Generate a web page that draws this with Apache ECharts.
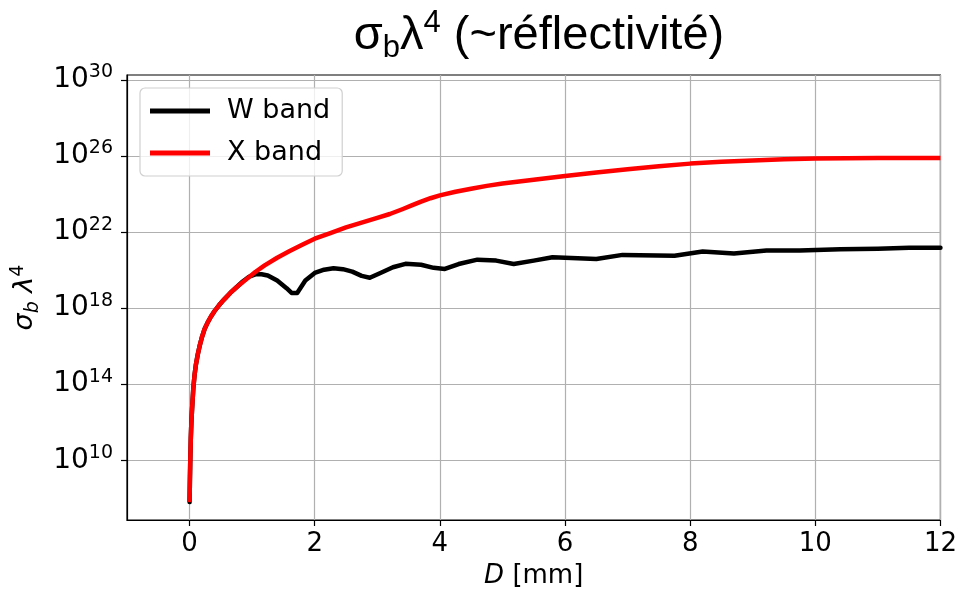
<!DOCTYPE html>
<html>
<head>
<meta charset="utf-8">
<script src="https://cdn.jsdelivr.net/npm/echarts@6/dist/echarts.min.js"></script>
<style>
  html, body { margin: 0; padding: 0; background: #fff; }
  #chart { width: 960px; height: 594px; }
</style>
</head>
<body>
<div id="chart"></div>
<script>
// D [mm] et log10(sigma_b * lambda^4)
const xDiam = [0, 0.005, 0.01, 0.02, 0.03, 0.04, 0.06, 0.08, 0.1, 0.13, 0.16, 0.2, 0.24, 0.29, 0.34, 0.4, 0.47, 0.55, 0.65, 0.75, 0.9, 1.05, 1.2, 1.4, 1.6, 1.8, 2.0, 2.25, 2.5, 2.75, 3.0, 3.2, 3.4, 3.55, 3.7, 3.85, 4.0, 4.25, 4.5, 4.75, 5.0, 5.5, 6.0, 6.5, 7.0, 7.5, 8.0, 8.5, 9.0, 9.5, 10.0, 11.0, 12.0];
const xBandLog = [7.8, 8.9, 9.8, 11.2, 12.1, 12.7, 13.8, 14.5, 15.0, 15.55, 16.0, 16.5, 16.9, 17.25, 17.55, 17.85, 18.15, 18.45, 18.8, 19.1, 19.5, 19.9, 20.25, 20.65, 21.0, 21.33, 21.65, 21.95, 22.25, 22.5, 22.75, 22.95, 23.2, 23.4, 23.6, 23.78, 23.93, 24.12, 24.28, 24.43, 24.55, 24.75, 24.95, 25.13, 25.3, 25.46, 25.6, 25.7, 25.77, 25.83, 25.87, 25.9, 25.9];

const wDiam = [0, 0.005, 0.01, 0.02, 0.03, 0.04, 0.06, 0.08, 0.1, 0.13, 0.16, 0.2, 0.24, 0.29, 0.34, 0.4, 0.47, 0.55, 0.65, 0.75, 0.85, 0.95, 1.05, 1.15, 1.25, 1.4, 1.55, 1.63, 1.72, 1.85, 2.0, 2.15, 2.3, 2.45, 2.6, 2.75, 2.88, 3.05, 3.25, 3.45, 3.7, 3.9, 4.08, 4.3, 4.6, 4.9, 5.18, 5.5, 5.8, 6.5, 6.92, 7.75, 8.2, 8.7, 9.22, 9.75, 10.4, 11.0, 11.5, 12.0];
const wBandLog = [7.8, 8.9, 9.8, 11.2, 12.1, 12.7, 13.8, 14.5, 15.0, 15.55, 16.0, 16.5, 16.9, 17.25, 17.55, 17.85, 18.15, 18.45, 18.8, 19.1, 19.4, 19.65, 19.78, 19.78, 19.72, 19.45, 19.05, 18.8, 18.8, 19.45, 19.85, 20.02, 20.1, 20.05, 19.92, 19.7, 19.6, 19.85, 20.15, 20.33, 20.28, 20.12, 20.06, 20.32, 20.55, 20.5, 20.32, 20.5, 20.68, 20.58, 20.8, 20.76, 20.98, 20.87, 21.03, 21.03, 21.1, 21.12, 21.17, 21.18];

const xTicks = [0, 2, 4, 6, 8, 10, 12];
const yTicks = [10, 14, 18, 22, 26, 30];

const FONT = 'DejaVu Sans';

const chart = echarts.init(document.getElementById('chart'));

const pairs = (xs, ys) => xs.map((x, i) => [x, ys[i]]);

chart.setOption({
  animation: false,
  backgroundColor: '#fff',
  title: {
    text: '{a|σ}{sub|b}{a|λ}{sup|4}{a| (~réflectivité)}',
    left: 534,
    top: 3,
    textAlign: 'center',
    textStyle: {
      fontWeight: 'normal',
      rich: {
        a: { fontFamily: 'Liberation Sans', fontWeight: 'normal', fontSize: 47, color: '#000', lineHeight: 56 },
        sub: { fontFamily: 'Liberation Sans', fontWeight: 'normal', fontSize: 31, color: '#000', verticalAlign: 'bottom', lineHeight: 43 },
        sup: { fontFamily: 'Liberation Sans', fontWeight: 'normal', fontSize: 31, color: '#000', verticalAlign: 'top', lineHeight: 34 }
      }
    }
  },
  grid: {
    left: 127, right: 18, top: 75, bottom: 72,
    show: true, borderColor: '#000', borderWidth: 1.2, backgroundColor: '#fff'
  },
  legend: {
    left: 140, top: 88,
    orient: 'vertical',
    icon: 'rect',
    itemWidth: 60, itemHeight: 5,
    itemGap: 12,
    padding: [8, 12, 8, 10],
    backgroundColor: 'rgba(255,255,255,0.8)',
    borderColor: '#d0d0d0', borderWidth: 1.2, borderRadius: 5,
    textStyle: { fontFamily: FONT, fontSize: 27, color: '#000', padding: [0, 0, 0, 12], lineHeight: 30 },
    data: ['W band', 'X band']
  },
  xAxis: {
    type: 'value',
    min: -1, max: 12,
    name: '{i|D}{n| [mm]}',
    nameLocation: 'middle',
    nameGap: 43,
    nameTextStyle: {
      rich: {
        i: { fontFamily: FONT, fontStyle: 'italic', fontSize: 26, color: '#000' },
        n: { fontFamily: FONT, fontSize: 26, color: '#000' }
      }
    },
    axisLine: { show: true, onZero: false, lineStyle: { color: '#000', width: 1.2 } },
    axisTick: { show: true, length: 6, customValues: xTicks, lineStyle: { color: '#000', width: 1.2 } },
    axisLabel: { customValues: xTicks, fontFamily: FONT, fontSize: 26, color: '#000', margin: 11 },
    splitLine: { show: true, lineStyle: { color: '#b0b0b0', width: 1.2 } }
  },
  yAxis: {
    type: 'value',
    min: 6.86, max: 30.26,
    name: '{s|σ}{b|b}{s| λ}{p|4}',
    nameLocation: 'middle',
    nameRotate: 90,
    nameGap: 77,
    nameTextStyle: {
      rich: {
        s: { fontFamily: FONT, fontStyle: 'italic', fontSize: 27, color: '#000', lineHeight: 34 },
        b: { fontFamily: FONT, fontStyle: 'italic', fontSize: 19, color: '#000', verticalAlign: 'bottom', lineHeight: 26 },
        p: { fontFamily: FONT, fontSize: 19, color: '#000', verticalAlign: 'top', lineHeight: 22 }
      }
    },
    axisLine: { show: true, onZero: false, lineStyle: { color: '#000', width: 1.2 } },
    axisTick: { show: true, length: 6, customValues: yTicks, lineStyle: { color: '#000', width: 1.2 } },
    axisLabel: {
      customValues: yTicks,
      margin: 14,
      formatter: (v) => '{t|10}{e|' + Math.round(v) + '}',
      rich: {
        t: { fontFamily: FONT, fontSize: 28, color: '#000', lineHeight: 34 },
        e: { fontFamily: FONT, fontSize: 19, color: '#000', verticalAlign: 'top', lineHeight: 22 }
      }
    },
    splitLine: { show: true, lineStyle: { color: '#b0b0b0', width: 1.2 } }
  },
  series: [
    {
      name: 'W band',
      type: 'line',
      data: pairs(wDiam, wBandLog),
      showSymbol: false,
      itemStyle: { color: '#000' },
      lineStyle: { color: '#000', width: 4.5, join: 'round', cap: 'round' }
    },
    {
      name: 'X band',
      type: 'line',
      data: pairs(xDiam, xBandLog),
      showSymbol: false,
      itemStyle: { color: '#ff0000' },
      lineStyle: { color: '#ff0000', width: 4.5, join: 'round' }
    }
  ]
});
</script>
</body>
</html>
